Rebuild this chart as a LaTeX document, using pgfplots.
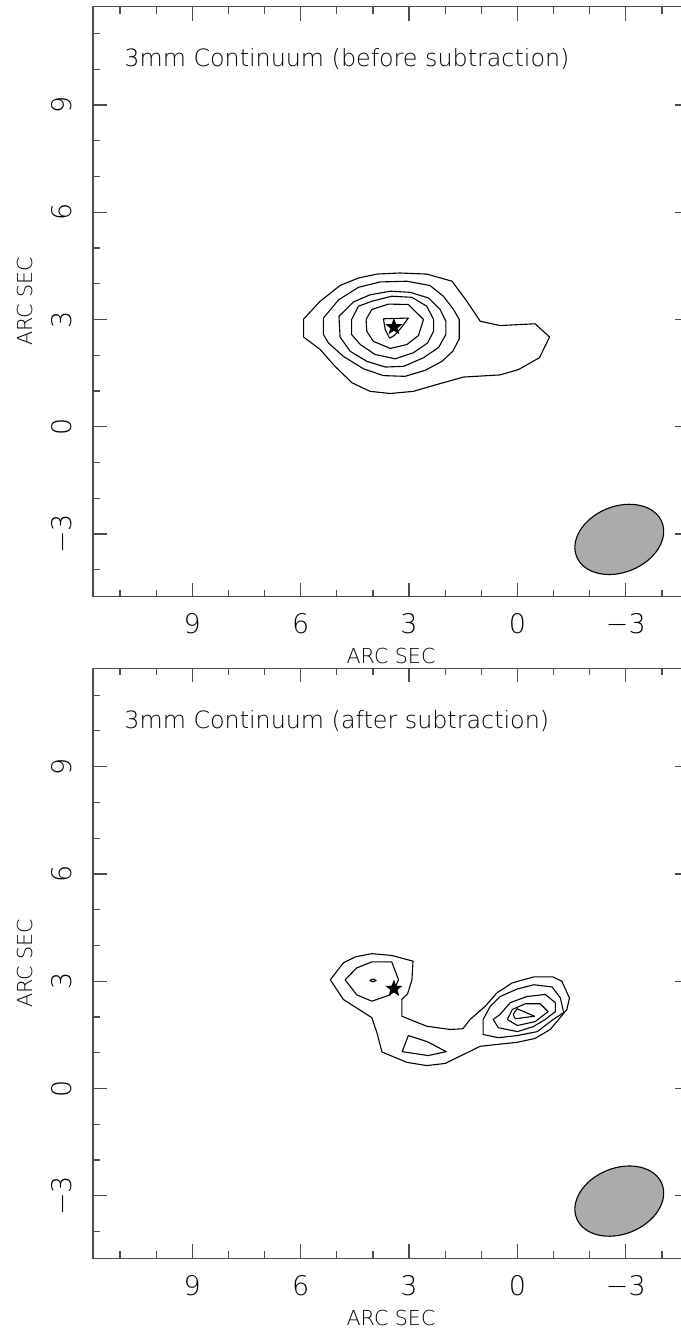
\documentclass[border=0pt]{standalone}
\usepackage{pgfplots}
\pgfplotsset{compat=1.18}
\usepackage{fontspec}
\IfFontExistsTF{DejaVu Sans ExtraLight}{\setmainfont{DejaVu Sans ExtraLight}}{\setmainfont{DejaVu Sans}}
\definecolor{beamgray}{gray}{0.67}
\definecolor{axgray}{gray}{0.3}
\pgfdeclareplotmark{fstar}{%
  \pgfpathmoveto{\pgfpointpolar{90}{\pgfplotmarksize}}%
  \pgfpathlineto{\pgfpointpolar{126}{0.42\pgfplotmarksize}}%
  \pgfpathlineto{\pgfpointpolar{162}{\pgfplotmarksize}}%
  \pgfpathlineto{\pgfpointpolar{198}{0.42\pgfplotmarksize}}%
  \pgfpathlineto{\pgfpointpolar{234}{\pgfplotmarksize}}%
  \pgfpathlineto{\pgfpointpolar{270}{0.42\pgfplotmarksize}}%
  \pgfpathlineto{\pgfpointpolar{306}{\pgfplotmarksize}}%
  \pgfpathlineto{\pgfpointpolar{342}{0.42\pgfplotmarksize}}%
  \pgfpathlineto{\pgfpointpolar{18}{\pgfplotmarksize}}%
  \pgfpathlineto{\pgfpointpolar{54}{0.42\pgfplotmarksize}}%
  \pgfpathclose\pgfusepathqfillstroke}
\pgfplotsset{
  panel/.style={
    scale only axis, width=298pt, height=295pt,
    xmin=-4.75, xmax=11.75, ymin=-4.75, ymax=11.75,
    x dir=reverse, clip=false,
    xtick={-3,0,3,6,9}, xticklabels={−3,0,3,6,9},
    ytick={-3,0,3,6,9}, yticklabels={−3,0,3,6,9},
    minor xtick={-4,-2,-1,1,2,4,5,7,8,10,11},
    minor ytick={-4,-2,-1,1,2,4,5,7,8,10,11},
    major tick length=7pt, minor tick length=3.5pt,
    tick style={axgray, line width=0.6pt},
    axis line style={draw=none},
    tick label style={font=\fontsize{13.5}{14}\selectfont, inner sep=0pt},
    xticklabel style={anchor=north},
    xticklabel shift=8.2pt,
    yticklabel style={rotate=90, anchor=south},
    yticklabel shift=10.5pt,
    xlabel={ARC SEC}, ylabel={ARC SEC},
    label style={font=\fontsize{10.3}{11}\selectfont, inner sep=0pt},
    xlabel style={at={(axis description cs:0.5,0)}, anchor=north, yshift=-25.8pt},
    ylabel style={at={(axis description cs:-0.1,0.5)}, anchor=south},
    after end axis/.code={%
      \draw[axgray, line width=0.65pt, line cap=rect] (axis cs:-4.75,11.75) -- (axis cs:11.75,11.75) -- (axis cs:11.75,-4.75) -- (axis cs:-4.75,-4.75);},
  },
  cont/.style={black, line width=0.55pt, line join=round, mark=none},
}
\begin{document}
\begin{tikzpicture}
% ---------------- top panel ----------------
\begin{axis}[panel, at={(46.5pt,-3.3pt)}, anchor=north west]
\addplot[cont] coordinates {(5.92,3.01)(5.46,3.51)(4.91,3.95)(4.40,4.16)(3.89,4.27)(3.25,4.30)(2.51,4.27)(1.81,4.07)(1.40,3.51)(1.03,2.95)(0.48,2.83)(-0.49,2.88)(-0.89,2.51)(-0.61,1.93)(-0.03,1.60)(0.48,1.45)(1.49,1.39)(1.81,1.30)(2.41,1.13)(2.88,0.99)(3.52,0.93)(4.08,0.99)(4.58,1.23)(5.05,1.69)(5.46,2.16)(5.92,2.51)(5.92,3.01)};
\addplot[cont] coordinates {(5.37,3.04)(4.95,3.55)(4.40,3.90)(3.80,4.05)(3.06,4.07)(2.42,3.95)(2.05,3.65)(1.77,3.28)(1.61,3.00)(1.61,2.46)(1.79,2.11)(2.09,1.83)(2.55,1.58)(3.11,1.41)(3.71,1.43)(4.26,1.62)(4.82,1.97)(5.23,2.34)(5.37,2.58)(5.37,3.04)};
\addplot[cont] coordinates {(4.94,3.09)(4.54,3.49)(4.08,3.69)(3.52,3.79)(2.97,3.76)(2.46,3.60)(2.14,3.28)(1.98,2.95)(1.98,2.58)(2.18,2.22)(2.60,1.93)(3.15,1.69)(3.66,1.67)(4.17,1.83)(4.63,2.11)(4.91,2.51)(4.94,3.09)};
\addplot[cont] coordinates {(4.59,3.00)(4.40,3.37)(4.03,3.51)(3.48,3.65)(2.92,3.62)(2.51,3.37)(2.32,3.00)(2.32,2.67)(2.49,2.34)(2.88,2.07)(3.38,1.90)(3.94,2.02)(4.35,2.30)(4.59,2.58)(4.59,3.00)};
\addplot[cont] coordinates {(4.19,3.00)(4.03,3.28)(3.57,3.43)(3.02,3.42)(2.60,3.00)(2.74,2.55)(3.06,2.30)(3.52,2.19)(3.99,2.39)(4.17,2.67)(4.19,3.00)};
\addplot[cont] coordinates {(3.71,3.02)(3.02,3.04)(3.20,2.79)(3.41,2.55)(3.54,2.48)(3.66,2.72)(3.71,3.02)};
\addplot[only marks, mark=fstar, mark size=3.9pt, black] coordinates {(3.42,2.79)};
\draw[fill=beamgray, line width=0.55pt, rotate around={22:(axis cs:-2.82,-3.15)}] (axis cs:-2.82,-3.15) ellipse [x radius=23pt, y radius=16.5pt];
\node[anchor=base west, inner sep=0pt, font=\fontsize{11.9}{13}\selectfont] at (axis cs:10.89,10.07) {3mm Continuum (before subtraction)};
\end{axis}
% ---------------- bottom panel ----------------
\begin{axis}[panel, at={(46.5pt,-334.15pt)}, anchor=north west]
\addplot[cont] coordinates {(5.18,3.04)(4.82,3.51)(4.49,3.68)(4.03,3.77)(3.48,3.72)(2.89,3.56)(2.92,3.04)(3.04,2.65)(3.20,2.49)(3.20,2.02)(2.51,1.74)(1.86,1.65)(1.51,1.67)(1.31,1.93)(0.89,2.30)(0.57,2.67)(0.15,2.95)(-0.45,3.12)(-0.98,3.12)(-1.23,3.00)(-1.44,2.53)(-1.37,2.21)(-1.10,1.88)(-0.91,1.65)(-0.49,1.40)(0.01,1.29)(1.03,1.18)(2.00,0.70)(2.51,0.64)(3.06,0.73)(3.75,1.02)(3.89,1.56)(4.03,1.98)(4.82,2.49)(5.18,3.04)};
\addplot[cont] coordinates {(4.77,3.04)(4.45,3.37)(4.03,3.54)(3.48,3.54)(3.29,3.04)(3.41,2.78)(3.52,2.62)(4.03,2.44)(4.45,2.62)(4.77,3.04)};
\addplot[cont] coordinates {(4.09,3.02)(4.00,3.06)(3.91,3.02)(4.00,2.98)(4.09,3.02)};
\addplot[cont] coordinates {(3.02,1.48)(2.50,1.31)(1.97,1.03)(2.47,0.92)(3.19,1.03)(3.02,1.48)};
\addplot[cont] coordinates {(0.95,1.93)(0.75,2.30)(0.48,2.57)(0.01,2.78)(-0.45,2.90)(-0.96,2.84)(-1.19,2.53)(-1.28,2.12)(-0.99,1.93)(-0.55,1.59)(0.00,1.48)(0.53,1.42)(0.95,1.51)(0.95,1.93)};
\addplot[cont] coordinates {(0.67,1.93)(0.48,2.07)(0.20,2.40)(-0.26,2.57)(-0.77,2.63)(-1.05,2.40)(-1.05,2.15)(-0.77,1.93)(-0.44,1.73)(0.00,1.59)(0.53,1.70)(0.67,1.93)};
\addplot[cont] coordinates {(0.28,1.93)(0.14,2.21)(-0.22,2.37)(-0.63,2.37)(-0.85,2.15)(-0.49,1.87)(0.00,1.76)(0.28,1.93)};
\addplot[cont] coordinates {(0.12,2.07)(0.01,2.23)(-0.47,2.02)(0.06,1.95)(0.12,2.07)};
\addplot[only marks, mark=fstar, mark size=3.9pt, black] coordinates {(3.42,2.79)};
\draw[fill=beamgray, line width=0.55pt, rotate around={22:(axis cs:-2.82,-3.15)}] (axis cs:-2.82,-3.15) ellipse [x radius=23pt, y radius=16.5pt];
\node[anchor=base west, inner sep=0pt, font=\fontsize{11.9}{13}\selectfont] at (axis cs:10.89,10.07) {3mm Continuum (after subtraction)};
\end{axis}
\pgfresetboundingbox
\path[use as bounding box] (0,0) rectangle (340pt,-666pt);
\end{tikzpicture}
\end{document}
